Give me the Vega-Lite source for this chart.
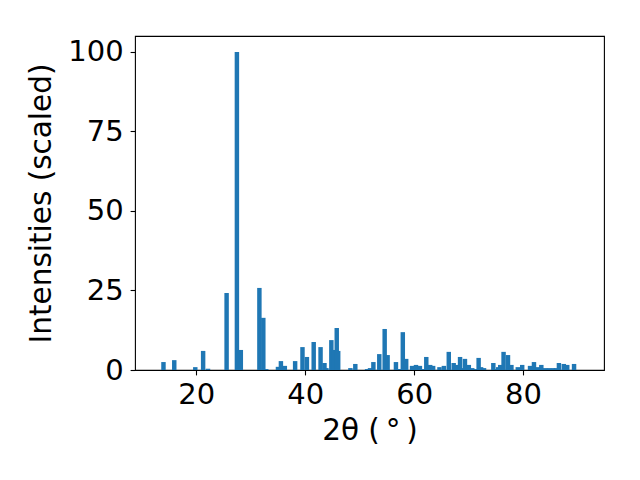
{
  "$schema": "https://vega.github.io/schema/vega-lite/v6.json",
  "width": 469,
  "height": 334,
  "autosize": "none",
  "padding": {"left": 135, "top": 36, "right": 36, "bottom": 110},
  "background": "white",
  "config": {
    "font": "DejaVu Sans",
    "view": {"stroke": "black", "strokeWidth": 1.1},
    "axis": {
      "grid": false,
      "domain": false,
      "tickColor": "black",
      "tickSize": 4.9,
      "tickWidth": 1.1,
      "labelFont": "DejaVu Sans",
      "labelFontSize": 29,
      "labelColor": "black",
      "titleFont": "DejaVu Sans",
      "titleFontSize": 29.5,
      "titleFontWeight": "normal",
      "titleColor": "black"
    }
  },
  "data": {
    "values": [
      {"two_theta": 13.98, "intensity": 2.5},
      {"two_theta": 15.96, "intensity": 3.1},
      {"two_theta": 19.82, "intensity": 0.9},
      {"two_theta": 21.26, "intensity": 6.0},
      {"two_theta": 22.16, "intensity": 0.4},
      {"two_theta": 25.57, "intensity": 24.2},
      {"two_theta": 27.46, "intensity": 100},
      {"two_theta": 28.18, "intensity": 6.3},
      {"two_theta": 31.59, "intensity": 25.8},
      {"two_theta": 32.31, "intensity": 16.4},
      {"two_theta": 32.85, "intensity": 0.3},
      {"two_theta": 35.0, "intensity": 1.0},
      {"two_theta": 35.54, "intensity": 2.8},
      {"two_theta": 36.26, "intensity": 1.3},
      {"two_theta": 38.15, "intensity": 2.8},
      {"two_theta": 39.5, "intensity": 7.2},
      {"two_theta": 40.31, "intensity": 4.1},
      {"two_theta": 41.56, "intensity": 8.8},
      {"two_theta": 42.82, "intensity": 7.2},
      {"two_theta": 43.54, "intensity": 2.2},
      {"two_theta": 43.9, "intensity": 0.6},
      {"two_theta": 44.8, "intensity": 9.4},
      {"two_theta": 45.25, "intensity": 6.3},
      {"two_theta": 45.79, "intensity": 13.2},
      {"two_theta": 46.06, "intensity": 6.0},
      {"two_theta": 48.3, "intensity": 0.6},
      {"two_theta": 49.2, "intensity": 1.9},
      {"two_theta": 51.36, "intensity": 0.3},
      {"two_theta": 51.9, "intensity": 0.6},
      {"two_theta": 52.52, "intensity": 2.5},
      {"two_theta": 53.6, "intensity": 5.0},
      {"two_theta": 54.59, "intensity": 12.9},
      {"two_theta": 55.13, "intensity": 4.7},
      {"two_theta": 56.66, "intensity": 2.5},
      {"two_theta": 57.29, "intensity": 0.3},
      {"two_theta": 57.92, "intensity": 11.9},
      {"two_theta": 58.54, "intensity": 3.5},
      {"two_theta": 59.62, "intensity": 1.3},
      {"two_theta": 60.34, "intensity": 1.6},
      {"two_theta": 61.06, "intensity": 1.3},
      {"two_theta": 61.6, "intensity": 0.3},
      {"two_theta": 62.23, "intensity": 4.1},
      {"two_theta": 62.95, "intensity": 1.6},
      {"two_theta": 63.49, "intensity": 1.3},
      {"two_theta": 64.65, "intensity": 0.9},
      {"two_theta": 65.46, "intensity": 1.3},
      {"two_theta": 66.36, "intensity": 5.7},
      {"two_theta": 67.26, "intensity": 2.2},
      {"two_theta": 67.89, "intensity": 1.6},
      {"two_theta": 68.43, "intensity": 4.1},
      {"two_theta": 68.88, "intensity": 0.6},
      {"two_theta": 69.33, "intensity": 3.5},
      {"two_theta": 70.04, "intensity": 1.6},
      {"two_theta": 70.67, "intensity": 0.6},
      {"two_theta": 71.21, "intensity": 0.3},
      {"two_theta": 71.84, "intensity": 3.8},
      {"two_theta": 72.29, "intensity": 0.9},
      {"two_theta": 72.83, "intensity": 0.6},
      {"two_theta": 74.54, "intensity": 2.2},
      {"two_theta": 74.99, "intensity": 0.3},
      {"two_theta": 75.44, "intensity": 0.9},
      {"two_theta": 75.8, "intensity": 1.6},
      {"two_theta": 76.42, "intensity": 5.7},
      {"two_theta": 77.23, "intensity": 4.7},
      {"two_theta": 77.86, "intensity": 1.6},
      {"two_theta": 79.03, "intensity": 0.9},
      {"two_theta": 79.84, "intensity": 1.6},
      {"two_theta": 81.28, "intensity": 1.3},
      {"two_theta": 82.0, "intensity": 2.5},
      {"two_theta": 82.72, "intensity": 0.9},
      {"two_theta": 83.35, "intensity": 1.6},
      {"two_theta": 84.07, "intensity": 0.6},
      {"two_theta": 84.78, "intensity": 0.6},
      {"two_theta": 85.5, "intensity": 0.6},
      {"two_theta": 86.04, "intensity": 0.6},
      {"two_theta": 86.58, "intensity": 2.2},
      {"two_theta": 87.48, "intensity": 1.9},
      {"two_theta": 88.11, "intensity": 1.6},
      {"two_theta": 89.36, "intensity": 1.9}
    ]
  },
  "mark": {"type": "bar", "width": 4.45, "color": "#1f77b4", "strokeWidth": 0},
  "encoding": {
    "x": {
      "field": "two_theta",
      "type": "quantitative",
      "scale": {"domain": [9.67, 93.94], "nice": false, "zero": false},
      "axis": {"values": [20, 40, 60, 80], "title": "2θ (\u2009°\u2009)", "labelPadding": 6, "titlePadding": 7, "labelFlush": false}
    },
    "y": {
      "field": "intensity",
      "type": "quantitative",
      "scale": {"domain": [0, 105], "nice": false},
      "axis": {"values": [0, 25, 50, 75, 100], "title": "Intensities (scaled)", "labelPadding": 7, "titlePadding": 11, "labelFlush": false}
    }
  }
}
